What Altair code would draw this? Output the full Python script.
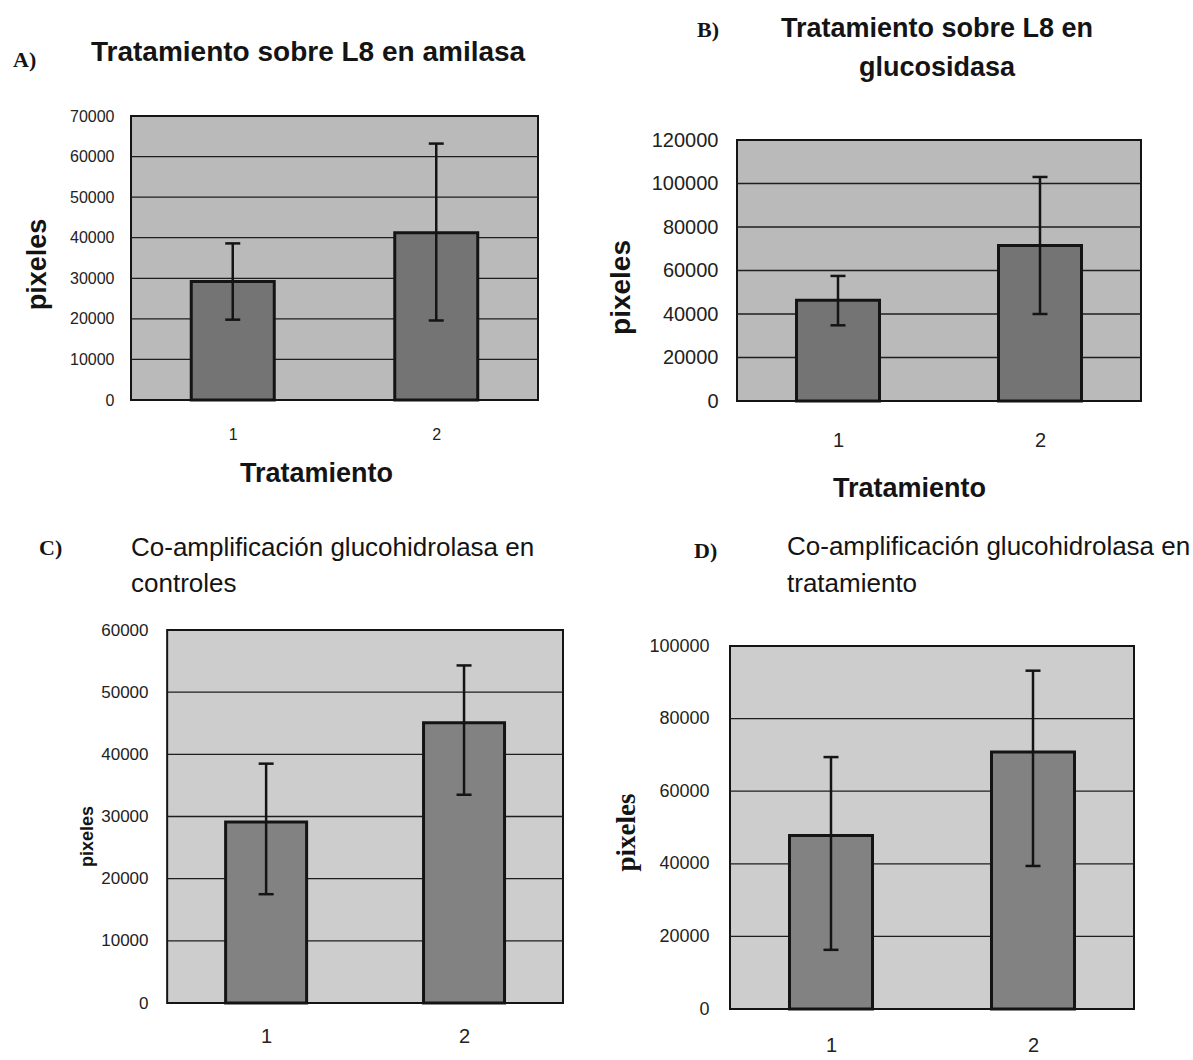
import altair as alt
import pandas as pd

# ---------------- data ----------------
categories = [1, 2]
x_tick_values = [1, 2]

a_means = [29200, 41200]
a_low = [19800, 19600]
a_high = [38600, 63200]

b_means = [46300, 71500]
b_low = [34800, 40000]
b_high = [57500, 103000]

c_means = [29100, 45100]
c_low = [17500, 33500]
c_high = [38500, 54300]

d_means = [47800, 70800]
d_low = [16300, 39400]
d_high = [69400, 93200]

a_ticks = [0, 10000, 20000, 30000, 40000, 50000, 60000, 70000]
b_ticks = [0, 20000, 40000, 60000, 80000, 100000, 120000]
c_ticks = [0, 10000, 20000, 30000, 40000, 50000, 60000]
d_ticks = [0, 20000, 40000, 60000, 80000, 100000]

panel_letters = ["A)", "B)", "C)", "D)"]
a_title = ["Tratamiento sobre L8 en amilasa"]
b_title = ["Tratamiento sobre L8 en", "glucosidasa"]
c_title = ["Co-amplificación glucohidrolasa en", "controles"]
d_title = ["Co-amplificación glucohidrolasa en", "tratamiento"]
y_axis_title = "pixeles"
x_axis_title = "Tratamiento"

SANS = "Liberation Sans"
SERIF = "Liberation Serif"
INK = "#141414"


def make_panel(means, low, high, ticks, letter, title_lines, cfg):
    df = pd.DataFrame({"cat": categories, "mean": means, "low": low, "high": high})
    x_lo_frame = categories[0] - 0.5
    x_hi_frame = categories[-1] + 0.5
    frame_df = pd.DataFrame({"x0": [x_lo_frame], "x1": [x_hi_frame],
                             "y0": [ticks[0]], "y1": [ticks[-1]]})
    grid_df = pd.DataFrame({"g": ticks[1:-1]})
    grid_df["x0"] = x_lo_frame
    grid_df["x1"] = x_hi_frame

    xscale = alt.Scale(domain=[cfg["xlo"], x_hi_frame], nice=False, zero=False)
    yscale = alt.Scale(domain=[0, cfg["ydom"]], nice=False, zero=True)

    xaxis_kw = dict(values=x_tick_values, format="d", grid=False, domain=False,
                    ticks=False, labelPadding=cfg["xpad"], labelFont=SANS,
                    labelFontSize=cfg["xlsize"], labelColor="#222")
    if cfg.get("xtitle"):
        xaxis_kw.update(title=x_axis_title, titleFont=SANS, titleFontSize=27,
                        titleFontWeight="bold", titleColor=INK,
                        titleX=cfg["xtx"], titleY=cfg["xty"],
                        titleAlign="center", titleBaseline="middle")
    else:
        xaxis_kw.update(title=None)
    xaxis = alt.Axis(**xaxis_kw)

    yaxis = alt.Axis(values=ticks, format="d", grid=False, domain=False, ticks=False,
                     labelPadding=cfg["ypad"], labelFont=SANS,
                     labelFontSize=cfg["lsize"], labelColor="#222",
                     offset=cfg["yoff"],
                     title=y_axis_title, titleFont=cfg["ytfont"],
                     titleFontSize=cfg["ytsize"], titleFontWeight="bold",
                     titleColor=INK, titleX=cfg["ytx"], titleY=cfg["yty"],
                     titleAlign="center", titleBaseline="middle")

    def X(field):
        return alt.X(field, scale=xscale, axis=xaxis)

    def Y(field):
        return alt.Y(field, scale=yscale, axis=yaxis)

    frame = alt.Chart(frame_df).mark_rect(fill=cfg["bg"], stroke=INK, strokeWidth=2).encode(
        x=X("x0:Q"), x2="x1:Q", y=Y("y0:Q"), y2="y1:Q",
    )
    grid = alt.Chart(grid_df).mark_rule(color="#1e1e1e", strokeWidth=1.3).encode(
        x=X("x0:Q"), x2="x1:Q", y=Y("g:Q"),
    )
    bars = alt.Chart(df).mark_bar(orient="vertical", size=cfg["barw"], fill=cfg["barfill"],
                                  stroke=INK, strokeWidth=3).encode(
        x=X("cat:Q"), y=Y("mean:Q"),
    )
    stem = alt.Chart(df).mark_rule(color=INK, strokeWidth=2.5).encode(
        x=X("cat:Q"), y=Y("low:Q"), y2="high:Q",
    )
    cap_hi = alt.Chart(df).mark_tick(orient="horizontal", size=15, thickness=2.5,
                                     color=INK, opacity=1).encode(
        x=X("cat:Q"), y=Y("high:Q"))
    cap_lo = alt.Chart(df).mark_tick(orient="horizontal", size=15, thickness=2.5,
                                     color=INK, opacity=1).encode(
        x=X("cat:Q"), y=Y("low:Q"))

    letter_mark = alt.Chart(pd.DataFrame({"t": [letter]})).mark_text(
        font=SERIF, fontWeight="bold", fontSize=22, align="left", baseline="middle",
        color=INK).encode(text="t:N", x=alt.value(cfg["lx"]), y=alt.value(cfg["ly"]))

    title_marks = []
    for i, line in enumerate(title_lines):
        title_marks.append(
            alt.Chart(pd.DataFrame({"t": [line]})).mark_text(
                font=SANS, fontWeight=cfg["tweight"], fontSize=cfg["tsize"],
                align=cfg["talign"], baseline="middle", color=INK).encode(
                text="t:N", x=alt.value(cfg["tx"]), y=alt.value(cfg["ty"][i]))
        )

    return alt.layer(frame, grid, bars, stem, cap_hi, cap_lo, letter_mark,
                     *title_marks).properties(width=cfg["w"], height=cfg["h"])


cfg_a = dict(xlo=0.5, ydom=70000, w=417, h=284, bg="#bababa", barfill="#747474", barw=83,
             lsize=16, xlsize=16, ypad=12, xpad=26, yoff=0,
             ytfont=SANS, ytsize=27, ytx=-89, yty=148,
             xtitle=True, xtx=190, xty=73,
             lx=-113, ly=-56, tx=-35, ty=[-63], talign="left", tsize=28, tweight="bold")

cfg_b = dict(xlo=0.5, ydom=120000 * 285 / 261, w=414, h=285, bg="#bababa", barfill="#747474",
             barw=83, lsize=20, xlsize=20, ypad=14, xpad=29, yoff=0,
             ytfont=SANS, ytsize=28, ytx=-111, yty=171,
             xtitle=True, xtx=177, xty=87,
             lx=-35, ly=-86, tx=205, ty=[-87, -48], talign="center", tsize=27, tweight="bold")

cfg_c = dict(xlo=0.5 - 37 / 202.5, ydom=60000, w=442, h=373, bg="#cdcdcd", barfill="#828282",
             barw=81, lsize=17, xlsize=20, ypad=15, xpad=23, yoff=-37,
             ytfont=SANS, ytsize=18, ytx=-76, yty=206,
             xtitle=False,
             lx=-87, ly=-82, tx=5, ty=[-82, -46], talign="left", tsize=26, tweight="normal")

cfg_d = dict(xlo=0.5, ydom=100000 * 379 / 363, w=414, h=379, bg="#cdcdcd", barfill="#828282",
             barw=83, lsize=18, xlsize=20, ypad=16, xpad=26, yoff=0,
             ytfont=SERIF, ytsize=27, ytx=-99, yty=202,
             xtitle=False,
             lx=-31, ly=-79, tx=62, ty=[-83, -46], talign="left", tsize=26, tweight="normal")

pa = make_panel(a_means, a_low, a_high, a_ticks, panel_letters[0], a_title, cfg_a)
pb = make_panel(b_means, b_low, b_high, b_ticks, panel_letters[1], b_title, cfg_b)
pc = make_panel(c_means, c_low, c_high, c_ticks, panel_letters[2], c_title, cfg_c)
pd_ = make_panel(d_means, d_low, d_high, d_ticks, panel_letters[3], d_title, cfg_d)

row1 = alt.hconcat(pa, pb, spacing=62)
row2 = alt.hconcat(pc, pd_, spacing=42)

chart = alt.vconcat(row1, row2, spacing=31).properties(
    padding={"left": 12, "top": 14, "right": 2, "bottom": 2},
    background="white",
).configure_view(stroke="transparent")

chart.save("out.html", embed_options={"renderer": "svg", "actions": False})
